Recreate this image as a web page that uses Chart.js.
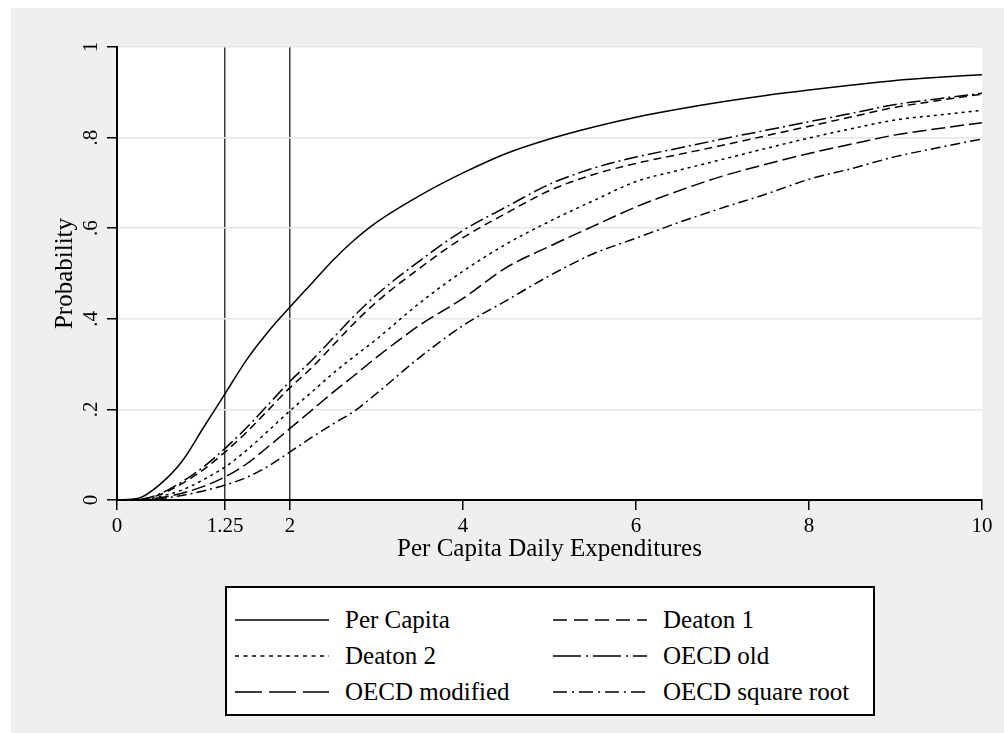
<!DOCTYPE html>
<html>
<head>
<meta charset="utf-8">
<script src="https://cdn.jsdelivr.net/npm/chart.js@4.4.1/dist/chart.umd.min.js"></script>
<style>
  html, body { margin: 0; padding: 0; background: #fff; }
  body { width: 1004px; height: 733px; position: relative; overflow: hidden; font-family: "Liberation Serif", "Times New Roman", serif; }
  #bg { position: absolute; left: 11px; top: 8px; right: 0; bottom: 0; background: #efefef; }
  #chart { position: absolute; left: 0; top: 0; }
  #legend { position: absolute; left: 225px; top: 586px; width: 646px; height: 126px; border: 2px solid #000; background: #fff; }
  .sample { position: absolute; width: 94px; height: 36px; }
  .label { position: absolute; height: 36px; line-height: 36px; font-family: "Liberation Serif", "Times New Roman", serif; font-size: 25px; color: #000; white-space: nowrap; }
</style>
</head>
<body>
<div id="bg"></div>
<canvas id="chart" width="1004" height="580"></canvas>
<div id="legend"></div>
<script>
// x values: per capita daily expenditures
const expenditure = [0, 0.25, 0.5, 0.75, 1, 1.25, 1.5, 1.75, 2, 2.25, 2.5, 2.75, 3, 3.5, 4, 4.5, 5, 5.5, 6, 6.5, 7, 7.5, 8, 8.5, 9, 9.5, 10];

// cumulative probability for each equivalence scale
const perCapita   = [0, 0.004, 0.035, 0.085, 0.16, 0.235, 0.31, 0.372, 0.426, 0.478, 0.53, 0.575, 0.613, 0.672, 0.722, 0.765, 0.797, 0.823, 0.845, 0.863, 0.879, 0.893, 0.905, 0.916, 0.926, 0.933, 0.939];
const deaton1     = [0, 0.001, 0.012, 0.036, 0.067, 0.106, 0.15, 0.199, 0.248, 0.292, 0.342, 0.392, 0.437, 0.512, 0.579, 0.633, 0.683, 0.718, 0.743, 0.763, 0.783, 0.804, 0.825, 0.846, 0.867, 0.882, 0.896];
const deaton2     = [0, 0, 0.008, 0.022, 0.045, 0.073, 0.11, 0.153, 0.197, 0.238, 0.28, 0.318, 0.355, 0.435, 0.505, 0.565, 0.615, 0.66, 0.703, 0.728, 0.752, 0.776, 0.799, 0.82, 0.839, 0.85, 0.86];
const oecdOld     = [0, 0.001, 0.014, 0.04, 0.073, 0.114, 0.16, 0.211, 0.262, 0.308, 0.358, 0.408, 0.453, 0.528, 0.595, 0.647, 0.697, 0.732, 0.757, 0.777, 0.797, 0.816, 0.835, 0.854, 0.873, 0.886, 0.898];
const oecdMod     = [0, 0, 0.005, 0.015, 0.03, 0.051, 0.08, 0.118, 0.158, 0.198, 0.238, 0.276, 0.315, 0.386, 0.445, 0.513, 0.56, 0.604, 0.647, 0.683, 0.715, 0.741, 0.765, 0.786, 0.806, 0.82, 0.833];
const oecdSqrt    = [0, 0, 0.003, 0.01, 0.02, 0.033, 0.05, 0.075, 0.106, 0.138, 0.168, 0.197, 0.235, 0.315, 0.385, 0.44, 0.495, 0.543, 0.578, 0.613, 0.645, 0.675, 0.708, 0.732, 0.758, 0.778, 0.797];

const seriesNames = ["Per Capita", "Deaton 1", "Deaton 2", "OECD old", "OECD modified", "OECD square root"];
const seriesData = [perCapita, deaton1, deaton2, oecdOld, oecdMod, oecdSqrt];

const xTicks = [0, 1.25, 2, 4, 6, 8, 10];
const yTicks = [0, 0.2, 0.4, 0.6, 0.8, 1];
const yTickLabels = ["0", ".2", ".4", ".6", ".8", "1"];
const refLines = [1.25, 2];

// line patterns: in the plot and in the legend
const plotDash = [[], [8, 5], [3, 4], [14, 4, 2, 4], [14, 5], [10, 4, 2, 4]];
const legendDash = [[], [14, 7], [4, 4.5], [28, 5, 2, 5], [27, 7], [14, 5, 2, 5]];

const serif = "'Liberation Serif', 'Times New Roman', serif";

const whiteArea = {
    id: "whiteArea",
    beforeDraw(chart) {
        const { ctx, chartArea: a } = chart;
        ctx.save();
        ctx.fillStyle = "#fff";
        ctx.fillRect(a.left, a.top, a.right - a.left, a.bottom - a.top);
        ctx.restore();
    }
};

const ctx = document.getElementById("chart").getContext("2d");
new Chart(ctx, {
    type: "line",
    data: {
        datasets: seriesData.map((ys, i) => ({
            label: seriesNames[i],
            data: expenditure.map((x, j) => ({ x: x, y: ys[j] })),
            borderColor: "#000",
            borderWidth: 1.5,
            borderDash: plotDash[i],
            pointRadius: 0,
            fill: false,
            cubicInterpolationMode: "monotone"
        }))
    },
    options: {
        responsive: false,
        animation: false,
        layout: { padding: { left: 37, right: 22, top: 47, bottom: 10 } },
        plugins: {
            legend: { display: false },
            tooltip: { enabled: false }
        },
        scales: {
            x: {
                type: "linear",
                min: 0,
                max: 10,
                afterBuildTicks: (scale) => { scale.ticks = xTicks.map(v => ({ value: v })); },
                afterFit: (scale) => { scale.height = 70; },
                ticks: {
                    color: "#000",
                    padding: 4,
                    maxRotation: 0,
                    font: { family: serif, size: 21 },
                    callback: (v) => String(v)
                },
                grid: {
                    drawOnChartArea: true,
                    color: (c) => (c.tick && refLines.includes(c.tick.value)) ? "#3a3a3a" : "rgba(0,0,0,0)",
                    lineWidth: 1.5,
                    tickColor: "#000",
                    tickLength: 10,
                    tickWidth: 1.5
                },
                border: { color: "#000", width: 2 },
                title: {
                    display: true,
                    text: "Per Capita Daily Expenditures",
                    color: "#000",
                    font: { family: serif, size: 25 },
                    padding: { top: 0, bottom: 6 }
                }
            },
            y: {
                type: "linear",
                min: 0,
                max: 1,
                afterBuildTicks: (scale) => { scale.ticks = yTicks.map(v => ({ value: v })); },
                afterFit: (scale) => { scale.width = 80; },
                ticks: {
                    color: "#000",
                    padding: 8,
                    minRotation: 90,
                    maxRotation: 90,
                    crossAlign: "center",
                    font: { family: serif, size: 21 },
                    callback: (v, i) => yTickLabels[i]
                },
                grid: {
                    color: "#e6e6e6",
                    lineWidth: 1.5,
                    tickColor: "#000",
                    tickLength: 10,
                    tickWidth: 1.5
                },
                border: { color: "#000", width: 2 },
                title: {
                    display: true,
                    text: "Probability",
                    color: "#000",
                    font: { family: serif, size: 25 },
                    padding: { top: 13, bottom: 0 }
                }
            }
        }
    },
    plugins: [whiteArea]
});

// legend: two columns, three rows
const legend = document.getElementById("legend");
const colX = [8, 326];
const rowY = [14, 50, 86];
seriesNames.forEach((name, i) => {
    const left = colX[i % 2];
    const top = rowY[Math.floor(i / 2)];
    const svgNS = "http://www.w3.org/2000/svg";
    const svg = document.createElementNS(svgNS, "svg");
    svg.setAttribute("class", "sample");
    svg.setAttribute("width", "94");
    svg.setAttribute("height", "36");
    svg.style.left = left + "px";
    svg.style.top = top + "px";
    const line = document.createElementNS(svgNS, "line");
    line.setAttribute("x1", "0");
    line.setAttribute("x2", "94");
    line.setAttribute("y1", "18");
    line.setAttribute("y2", "18");
    line.setAttribute("stroke", "#000");
    line.setAttribute("stroke-width", "1.6");
    if (legendDash[i].length) line.setAttribute("stroke-dasharray", legendDash[i].join(" "));
    svg.appendChild(line);
    legend.appendChild(svg);
    const span = document.createElement("div");
    span.className = "label";
    span.textContent = name;
    span.style.left = (left + 110) + "px";
    span.style.top = top + "px";
    legend.appendChild(span);
});
</script>
</body>
</html>
